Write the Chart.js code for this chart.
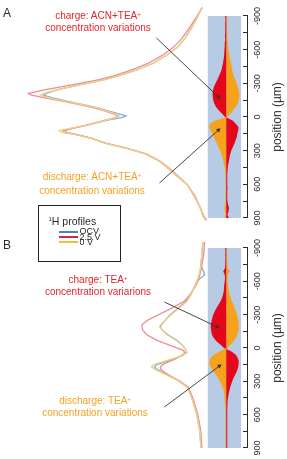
<!DOCTYPE html>
<html>
<head>
<meta charset="utf-8">
<script src="https://cdn.jsdelivr.net/npm/chart.js@4.4.1/dist/chart.umd.min.js"></script>
<style>
  body { margin: 0; width: 287px; height: 459px; overflow: hidden; background: #fff; position: relative;
         font-family: "Liberation Sans", Arial, sans-serif; color: #2a2a2a; }
  .panel { position: absolute; left: 0; transform-origin: 0 0; }
  .tag { position: absolute; font-size: 12px; line-height: 12px; }
  .note { position: absolute; font-size: 10px; white-space: nowrap; text-align: center; transform: translateX(-50%); }
  .note sup { font-size: 6px; vertical-align: 3px; line-height: 0; }
  .charge { color: #e5242c; }
  .discharge { color: #f5a023; }
  #legend { position: absolute; left: 38px; top: 205px; width: 81px; height: 55px; border: 1.5px solid #222; background: #fff; }
  #legend div { position: absolute; white-space: nowrap; }
  #legend .sw { height: 1.7px; width: 19px; left: 19.5px; }
  #legend .it { left: 40.5px; font-size: 9px; line-height: 11px; }
</style>
</head>
<body>
<canvas id="panelA" class="panel" width="228" height="287" style="top:0;transform:translateY(228px) rotate(-90deg)"></canvas>
<canvas id="panelB" class="panel" width="231" height="287" style="top:228px;transform:translateY(231px) rotate(-90deg)"></canvas>

<div class="tag" style="left:3px;top:7px">A</div>
<div class="tag" style="left:3px;top:239px">B</div>

<div class="note charge" style="left:98px;top:9.6px;line-height:12.7px">charge: ACN+TEA<sup>+</sup><br>concentration variations</div>
<div class="note discharge" style="left:92px;top:170.3px;line-height:13.3px">discharge: ACN+TEA<sup>+</sup><br>concentration variations</div>
<div class="note charge" style="left:98px;top:273.6px;line-height:12.3px">charge: TEA<sup>+</sup><br>concentration variarions</div>
<div class="note discharge" style="left:95px;top:395.3px;line-height:11.7px">discharge: TEA<sup>+</sup><br>concentration variations</div>

<div id="legend">
  <div style="left:9.5px;top:8.5px;font-size:10.5px;line-height:12px"><sup style="font-size:6px;vertical-align:4px;line-height:0">1</sup>H profiles</div>
  <div class="sw" style="top:25px;background:#4a86c5"></div><div class="it" style="top:20.4px">OCV</div>
  <div class="sw" style="top:30.4px;background:#d8283f"></div><div class="it" style="top:25.8px">2.5 V</div>
  <div class="sw" style="top:35.4px;background:#f2c230"></div><div class="it" style="top:30.8px">0 V</div>
</div>

<script>
// axis ticks (µm); labels only every 300
const tickValues = [-900, -750, -600, -450, -300, -150, 0, 150, 300, 450, 600, 750, 900];

// 1H profiles, panel A (ACN + TEA+)
const posA = [-975, -900, -800, -700, -620, -550, -480, -420, -370, -330, -285, -240, -210, -195, -170, -140, -110, -80, -50, -25, -10, 5, 25, 50, 80, 105, 120, 135, 160, 190, 234, 280, 330, 390, 450, 520, 600, 700, 800, 880, 920];
const ocvA  = [18.6, 20.2, 22.7, 25.5, 28.7, 33.2, 38.5, 45.3, 52.2, 59.1, 69.2, 78.6, 82.6, 83.8, 79.8, 73.7, 67.2, 61.1, 56.3, 52.2, 49.8, 51.4, 56.7, 61.5, 67.2, 72.9, 74.5, 74.9, 69.2, 64.0, 58.3, 49.4, 41.7, 36.4, 32.8, 29.1, 24.7, 21.9, 19.4, 18.2, 17.0];
const v25A  = [18.4, 20.6, 23.5, 26.7, 30.4, 34.8, 40.5, 47.4, 54.3, 61.5, 72.5, 83.8, 89.9, 88.7, 83.0, 75.7, 68.8, 62.8, 57.9, 54.7, 53.0, 54.3, 57.9, 62.3, 67.6, 72.5, 75.7, 75.7, 69.6, 64.0, 57.9, 49.0, 41.3, 36.0, 32.4, 28.7, 24.7, 21.5, 19.4, 17.8, 16.6];
const v0A   = [18.6, 20.2, 22.7, 25.5, 28.7, 33.2, 38.5, 45.3, 52.2, 59.1, 69.2, 78.9, 83.8, 85.0, 81.4, 74.5, 67.6, 61.5, 57.1, 53.8, 52.6, 53.8, 57.5, 61.9, 67.6, 73.7, 77.3, 76.5, 70.0, 64.4, 58.3, 49.4, 41.7, 36.4, 32.8, 29.1, 24.7, 21.9, 19.4, 18.2, 17.0];

// 1H profiles, panel B (TEA+)
const posB = [-955, -850, -750, -660, -600, -560, -480, -420, -360, -300, -250, -210, -190, -160, -120, -70, -20, 20, 40, 70, 100, 130, 150, 170, 190, 230, 270, 300, 350, 450, 600, 750, 900, 990];
const ocvB  = [18.2, 18.6, 19.0, 17.4, 20.6, 21.5, 23.1, 25.1, 28.3, 31.6, 33.6, 35.2, 35.6, 34.8, 32.8, 29.1, 26.3, 25.1, 24.7, 26.7, 30.4, 34.4, 37.2, 38.1, 37.2, 34.0, 30.4, 27.9, 24.7, 22.7, 20.6, 19.4, 19.0, 18.6];
const v25B  = [17.4, 17.8, 18.6, 19.4, 20.2, 21.1, 23.5, 25.9, 30.8, 36.4, 40.9, 43.3, 43.3, 42.9, 41.3, 37.2, 31.2, 26.3, 25.5, 27.1, 29.6, 32.8, 34.8, 35.6, 35.6, 33.2, 30.0, 27.5, 24.3, 22.3, 20.2, 19.0, 18.6, 18.2];
const v0B   = [18.2, 18.6, 19.0, 19.8, 20.6, 21.5, 23.1, 24.7, 27.9, 31.2, 33.6, 35.6, 36.0, 34.8, 32.4, 28.7, 26.3, 25.1, 24.7, 27.1, 31.2, 35.6, 38.5, 39.3, 38.1, 34.4, 30.4, 27.9, 24.7, 22.7, 20.6, 19.4, 19.0, 18.6];

// concentration variations (a.u.), sign = side of the cell
const lobePos = [-960, -930, -900, -870, -840, -810, -780, -750, -720, -690, -660, -630, -600, -570, -540, -510, -480, -450, -420, -390, -360, -330, -300, -270, -240, -210, -180, -150, -120, -90, -60, -30, 0,
                 30, 60, 90, 120, 150, 180, 210, 240, 270, 300, 330, 360, 390, 420, 450, 480, 510, 540, 570, 600, 630, 660, 690, 720, 750, 780, 810, 840, 870, 900, 930, 960];
const chargeA = [1.4, 1.0, 1.1, 0.9, 1.2, 1.0, 1.1, 1.0, 1.3, 1.2, 1.5, 1.6, 1.9, 2.2, 2.5, 2.8, 3.4, 4.1, 5.0, 6.1, 7.6, 9.3, 11.1, 12.6, 13.6, 14.1, 13.9, 13.4, 12.4, 10.6, 7.6, 4.4, 1.2,
                 -6.2, -9.6, -12.3, -12.0, -11.2, -10.6, -9.4, -8.1, -6.4, -5.0, -4.1, -3.3, -2.6, -1.9, -1.4, -1.1, -1.0, -0.9, -1.0, -0.9, -1.1, -1.0, -0.9, -1.0, -1.2, -1.6, -2.6, -2.2, -1.2, -2.4, -1.5, -0.8];
const dischargeA = [-0.7, -0.8, -0.7, -0.8, -0.6, -0.8, -0.7, -0.9, -1.0, -1.1, -1.4, -1.8, -2.2, -2.8, -3.3, -4.0, -4.8, -5.5, -6.0, -6.6, -7.8, -9.2, -10.5, -11.7, -12.5, -13.0, -13.1, -12.6, -11.5, -9.6, -7.0, -4.2, -1.2,
                 11.0, 16.4, 17.6, 16.2, 14.3, 12.6, 11.0, 9.4, 7.6, 6.1, 4.9, 4.0, 3.1, 2.3, 1.7, 1.3, 1.0, 0.8, 0.9, 0.8, 0.9, 0.7, 0.8, 0.9, 0.8, 1.2, 1.8, 1.5, 0.9, 1.7, 1.0, 0.6];
const chargeB = [1.8, 1.1, 1.0, 0.9, 1.0, 0.9, 1.0, 1.1, 1.4, 3.2, 1.6, 1.3, 1.6, 2.0, 2.3, 2.7, 3.5, 4.5, 6.0, 8.0, 10.0, 11.9, 13.2, 14.3, 15.2, 15.8, 15.9, 15.4, 14.5, 12.8, 10.1, 6.0, 2.3,
                 -5.0, -9.5, -11.5, -12.5, -12.4, -11.8, -10.5, -9.0, -7.2, -6.0, -4.8, -3.8, -3.0, -2.2, -1.6, -1.3, -1.1, -1.0, -1.0, -0.9, -1.0, -0.9, -1.0, -0.9, -1.0, -0.9, -1.0, -0.9, -1.0, -0.9, -1.0, -0.9];
const dischargeB = [-0.6, -0.5, -0.7, -0.8, -0.7, -0.8, -0.8, -0.9, -1.2, -3.6, -1.3, -1.2, -1.4, -1.8, -2.2, -2.8, -3.5, -4.6, -5.8, -7.2, -8.5, -9.8, -10.8, -11.7, -12.3, -12.6, -12.7, -12.3, -11.2, -9.5, -7.4, -4.0, -1.2,
                 6.5, 12.5, 16.0, 17.3, 17.0, 15.5, 13.2, 10.5, 8.3, 6.5, 5.0, 3.5, 2.6, 2.1, 1.8, 1.5, 1.2, 1.0, 0.9, 0.8, 0.9, 0.8, 0.8, 0.9, 0.8, 0.8, 0.9, 0.8, 0.8, 0.8, 0.8, 0.7];

// annotation arrows: [position, a.u.] from label to lobe
const arrowsA = [{from: [-704, 71], to: [-178, 8], rot: 223}, {from: [588, 68], to: [116, 8], rot: 138}];
const arrowsB = [{from: [-414, 63], to: [-189, 9], rot: 205}, {from: [531, 63], to: [162, 7], rot: 144}];

const colors = {
    ocv: "#7eb0dc", v25: "#ef8d94", v0: "#f4d27c",
    charge: "#e4071b", discharge: "#f7a21b", band: "#b7cbe5", ink: "#2a2a2a"
};

Chart.defaults.font.family = "'Liberation Sans', Arial, sans-serif";
Chart.defaults.color = colors.ink;

const pts = (pos, vals) => pos.map((p, i) => ({x: p, y: vals[i]}));

function curve(pos, vals, color) {
    return {data: pts(pos, vals), yAxisID: "yc", borderColor: color, borderWidth: 1.3, fill: false, clip: false, pointRadius: 0};
}

function lobe(pos, vals, color) {
    return {data: pts(pos, vals), yAxisID: "yb", borderWidth: 0, backgroundColor: color, fill: "origin", clip: false, pointRadius: 0};
}

function arrow(a) {
    return {
        data: [{x: a.from[0], y: a.from[1]}, {x: a.to[0], y: a.to[1]}],
        yAxisID: "yb", borderColor: "#333", borderWidth: 0.9, clip: false,
        pointRadius: [0, 2.6], pointStyle: "triangle", pointRotation: [0, a.rot],
        pointBackgroundColor: "#333", pointBorderWidth: 0
    };
}

function drawPanel(id, p) {
    return new Chart(document.getElementById(id), {
        type: "line",
        data: {
            datasets: [
                ...p.arrows.map(arrow),
                curve(p.pos, p.v0, colors.v0),
                curve(p.pos, p.v25, colors.v25),
                curve(p.pos, p.ocv, colors.ocv),
                lobe(lobePos, p.charge, colors.charge),
                lobe(lobePos, p.discharge, colors.discharge),
                {
                    data: [{x: p.band[0], y: 19}, {x: p.band[1], y: 19}],
                    yAxisID: "yb", borderWidth: 0, backgroundColor: colors.band,
                    fill: {value: -15}, clip: false, pointRadius: 0
                }
            ]
        },
        options: {
            responsive: false,
            animation: false,
            devicePixelRatio: 1,
            layout: {padding: {left: p.padL, right: p.padR, top: 0, bottom: 0}},
            plugins: {legend: {display: false}, tooltip: {enabled: false}},
            elements: {line: {tension: 0}},
            scales: {
                x: {
                    type: "linear", reverse: true, min: -900, max: 900, position: "bottom",
                    afterBuildTicks: (s) => { s.ticks = tickValues.map((v) => ({value: v})); },
                    afterFit: (s) => { s.height = 40; },
                    ticks: {
                        callback: (v) => (v % 300 === 0 ? String(v) : ""),
                        autoSkip: false, maxRotation: 0, padding: 9, font: {size: 9}, color: colors.ink
                    },
                    grid: {drawOnChartArea: false, drawTicks: true, tickLength: -4, color: colors.ink, lineWidth: 1},
                    border: {display: true, color: colors.ink, width: 1},
                    title: {display: true, text: "position (µm)", font: {size: 12}, color: colors.ink, padding: {top: 0, bottom: 2}}
                },
                yc: {type: "linear", min: 0, max: 100, display: false},
                yb: {type: "linear", min: -21, max: 226, display: false}
            }
        }
    });
}

drawPanel("panelA", {
    pos: posA, ocv: ocvA, v25: v25A, v0: v0A, charge: chargeA, discharge: dischargeA,
    arrows: arrowsA, band: [-980, 1000], padL: 10, padR: 16
});
drawPanel("panelB", {
    pos: posB, ocv: ocvB, v25: v25B, v0: v0B, charge: chargeB, discharge: dischargeB,
    arrows: arrowsB, band: [-1100, 1010], padL: 11, padR: 20
});
</script>
</body>
</html>
